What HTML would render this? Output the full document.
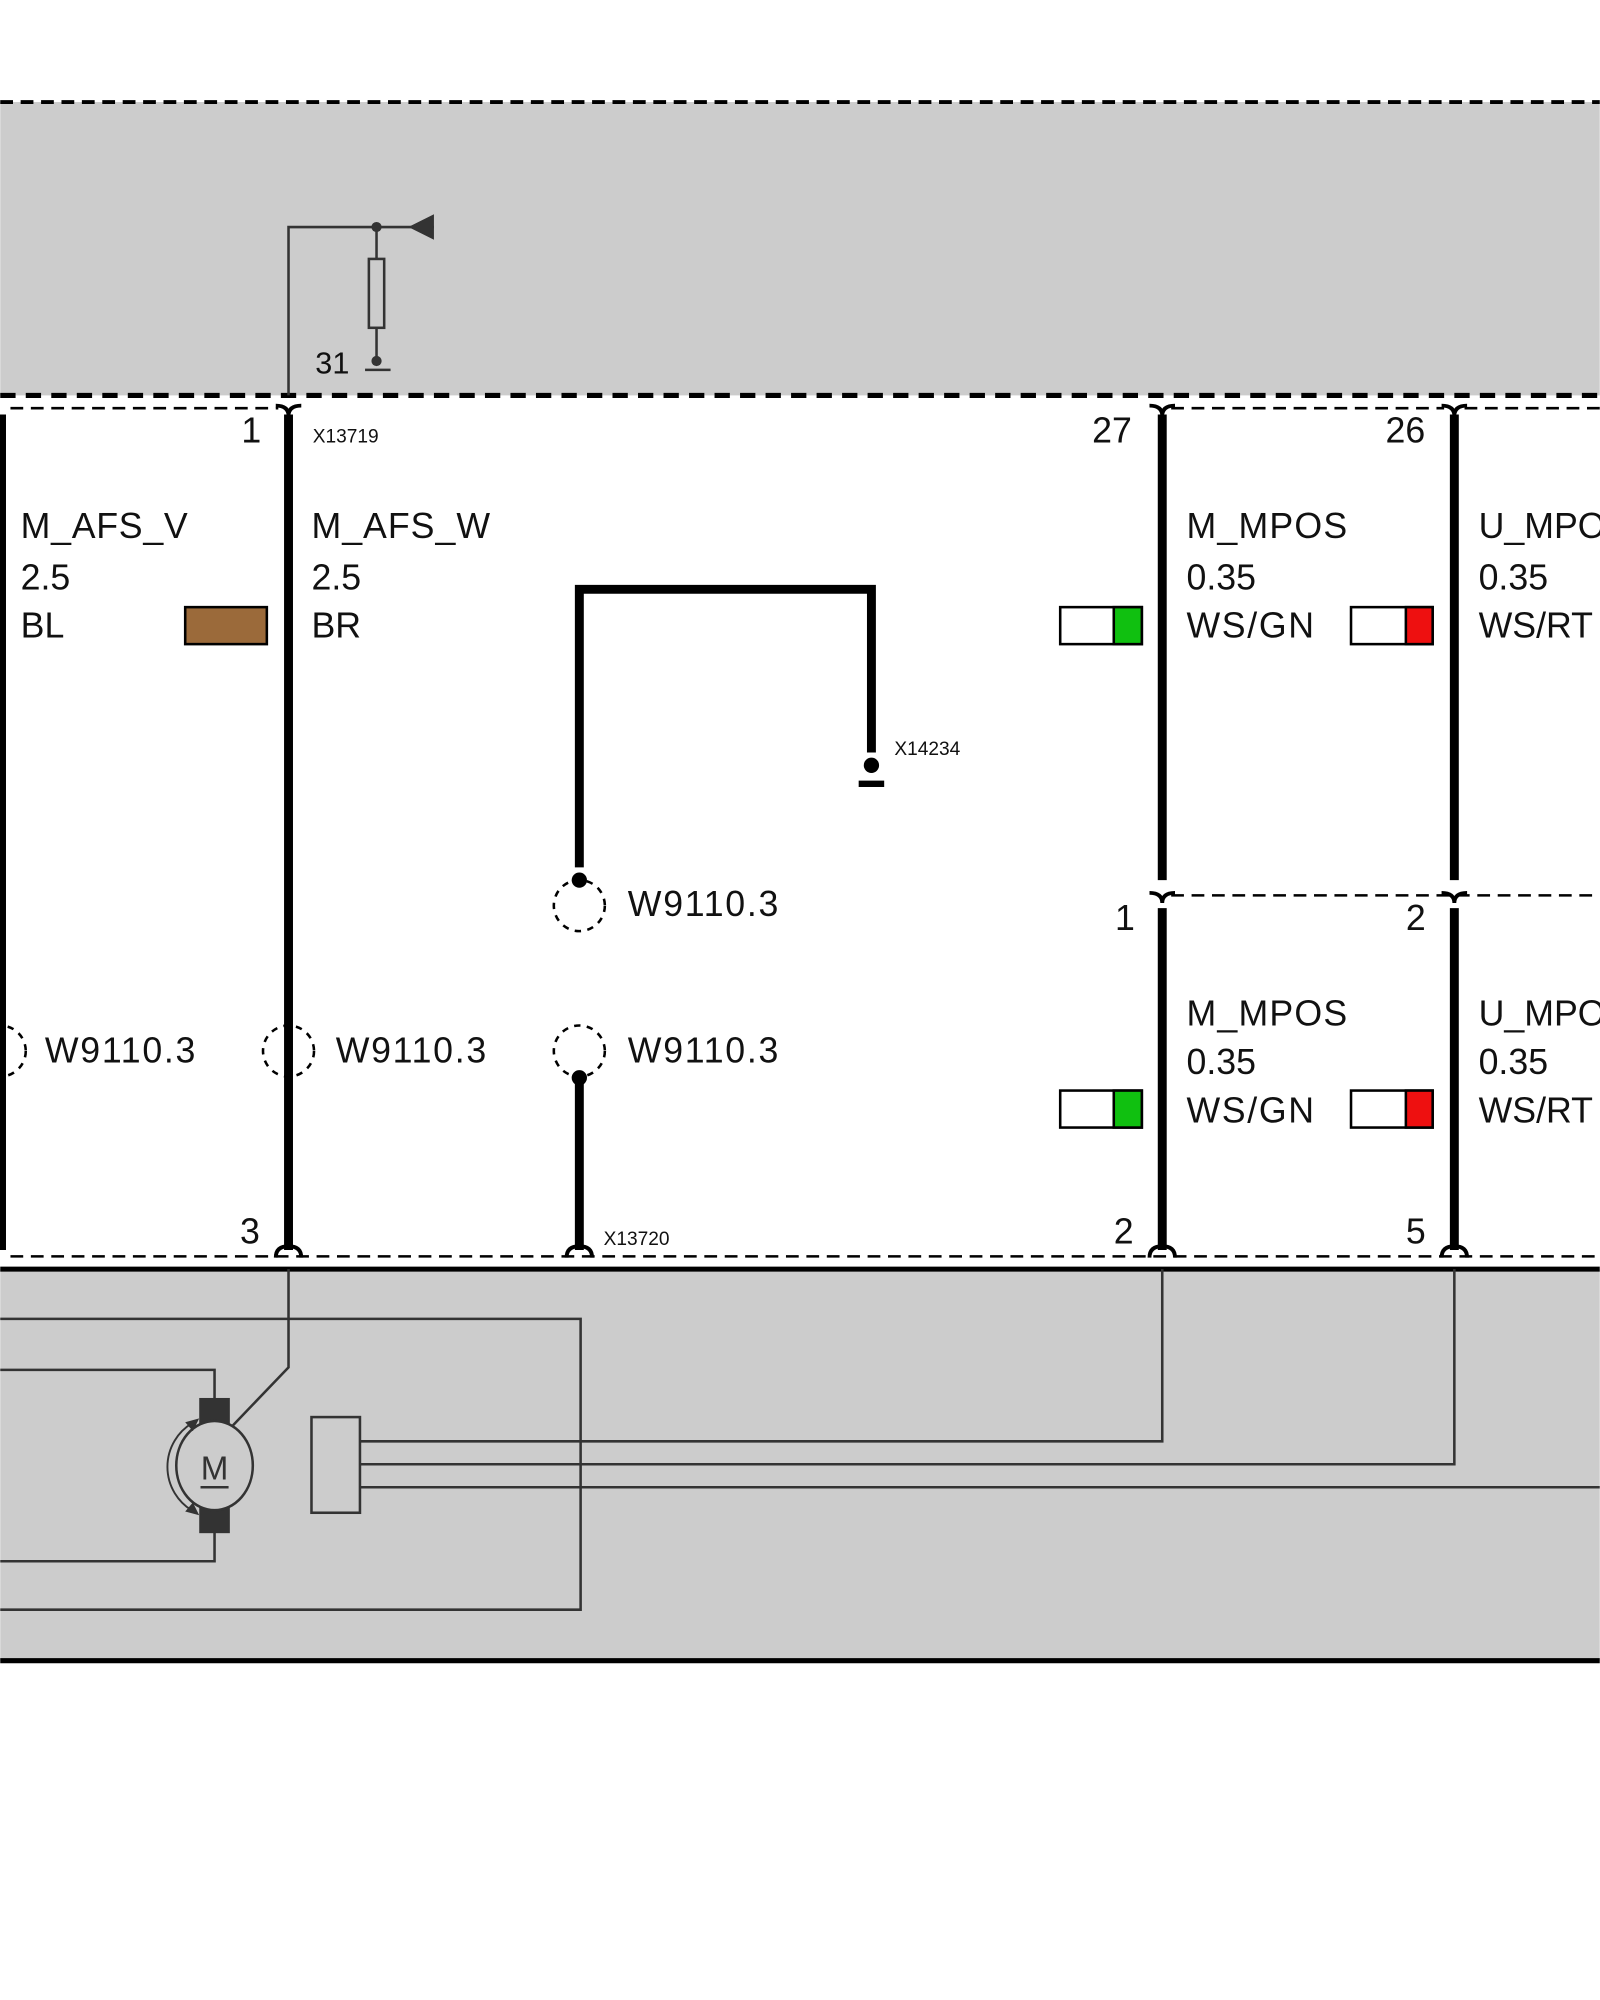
<!DOCTYPE html>
<html><head><meta charset="utf-8"><style>html,body{margin:0;padding:0;background:#fff}svg{display:block}</style></head>
<body>
<svg width="1600" height="2000" viewBox="0 0 1254 1568" xmlns="http://www.w3.org/2000/svg" font-family="Liberation Sans, sans-serif">
<rect x="0" y="80" width="1254" height="230" fill="#cccccc"/>
<line x1="0" y1="80" x2="1254" y2="80" stroke="#000" stroke-width="3" stroke-dasharray="10,6"/>
<line x1="0" y1="310" x2="1254" y2="310" stroke="#000" stroke-width="4" stroke-dasharray="12,8"/>
<g stroke="#333" stroke-width="2" fill="none">
<polyline points="226,310 226,178 340,178"/>
<line x1="295" y1="178" x2="295" y2="283"/>
<rect x="289" y="203" width="12" height="54" fill="#ccc"/>
<line x1="286" y1="290" x2="306" y2="290"/>
</g>
<circle cx="295" cy="178" r="4" fill="#333"/><circle cx="295" cy="283" r="4" fill="#333"/>
<polygon points="320,178 340,168 340,188" fill="#333"/>
<text x="247" y="293" font-size="24" fill="#111">31</text>
<rect x="0" y="995" width="1254" height="307" fill="#cccccc"/>
<line x1="0" y1="995" x2="1254" y2="995" stroke="#000" stroke-width="4"/>
<line x1="0" y1="1302" x2="1254" y2="1302" stroke="#000" stroke-width="4"/>
<g stroke="#000" stroke-width="2" stroke-dasharray="10,6" fill="none">
<line x1="8" y1="320" x2="218" y2="320"/>
<line x1="918" y1="320" x2="1132" y2="320"/>
<line x1="1148" y1="320" x2="1254" y2="320"/>
<line x1="8" y1="985" x2="1254" y2="985"/>
<line x1="918" y1="702" x2="1254" y2="702"/>
</g>
<g stroke="#000" stroke-width="7" fill="none">
<line x1="1" y1="325" x2="1" y2="980"/>
<line x1="226" y1="325" x2="226" y2="980"/>
<line x1="911" y1="325" x2="911" y2="690"/>
<line x1="1140" y1="325" x2="1140" y2="690"/>
<line x1="911" y1="712" x2="911" y2="980"/>
<line x1="1140" y1="712" x2="1140" y2="980"/>
<polyline points="454,680 454,462 683,462 683,590"/>
<line x1="454" y1="848" x2="454" y2="980"/>
</g>
<g stroke="#000" stroke-width="3" fill="none">
<path d="M216,318 q10,0 10,8 q0,-8 10,-8"/>
<path d="M901,318 q10,0 10,8 q0,-8 10,-8"/>
<path d="M1130,318 q10,0 10,8 q0,-8 10,-8"/>
<path d="M901,700 q10,0 10,8 q0,-8 10,-8"/>
<path d="M1130,700 q10,0 10,8 q0,-8 10,-8"/>
<path d="M216,986 q0,-9 10,-9 q10,0 10,9"/>
<path d="M444,986 q0,-9 10,-9 q10,0 10,9"/>
<path d="M901,986 q0,-9 10,-9 q10,0 10,9"/>
<path d="M1130,986 q0,-9 10,-9 q10,0 10,9"/>
</g>
<circle cx="683" cy="600" r="6" fill="#000"/><rect x="673" y="612" width="20" height="5" fill="#000"/>
<circle cx="454" cy="690" r="6" fill="#000"/><circle cx="454" cy="845" r="6" fill="#000"/>
<g stroke="#000" stroke-width="2" stroke-dasharray="5,5" fill="none">
<circle cx="454" cy="710" r="20"/><circle cx="454" cy="824" r="20"/>
<circle cx="226" cy="824" r="20"/><circle cx="0" cy="824" r="20"/>
</g>
<rect x="145" y="476" width="64" height="29" fill="#9b6a3a" stroke="#000" stroke-width="2"/>
<g stroke="#000" stroke-width="2">
<rect x="831" y="476" width="64" height="29" fill="#fff"/><rect x="873" y="476" width="22" height="29" fill="#10c010"/>
<rect x="1059" y="476" width="64" height="29" fill="#fff"/><rect x="1102" y="476" width="21" height="29" fill="#ee1010"/>
<rect x="831" y="855" width="64" height="29" fill="#fff"/><rect x="873" y="855" width="22" height="29" fill="#10c010"/>
<rect x="1059" y="855" width="64" height="29" fill="#fff"/><rect x="1102" y="855" width="21" height="29" fill="#ee1010"/>
</g>
<g font-size="28" fill="#111">
<text x="16" y="422" textLength="131">M_AFS_V</text><text x="16" y="462">2.5</text><text x="16" y="500">BL</text>
<text x="244" y="422" textLength="140">M_AFS_W</text><text x="244" y="462">2.5</text><text x="244" y="500">BR</text>
<text x="930" y="422" textLength="126">M_MPOS</text><text x="930" y="462">0.35</text><text x="930" y="500" textLength="100">WS/GN</text>
<text x="1159" y="422">U_MPOS</text><text x="1159" y="462">0.35</text><text x="1159" y="500">WS/RT</text>
<text x="930" y="804" textLength="126">M_MPOS</text><text x="930" y="842">0.35</text><text x="930" y="880" textLength="100">WS/GN</text>
<text x="1159" y="804">U_MPOS</text><text x="1159" y="842">0.35</text><text x="1159" y="880">WS/RT</text>
<text x="492" y="718" textLength="118">W9110.3</text><text x="492" y="833" textLength="118">W9110.3</text>
<text x="263" y="833" textLength="118">W9110.3</text><text x="35" y="833" textLength="118">W9110.3</text>
<text x="189" y="347">1</text><text x="856" y="347">27</text><text x="1086" y="347">26</text>
<text x="874" y="729">1</text><text x="1102" y="729">2</text>
<text x="188" y="975">3</text><text x="873" y="975">2</text><text x="1102" y="975">5</text>
</g>
<g font-size="15" fill="#111">
<text x="245" y="347">X13719</text><text x="701" y="592">X14234</text><text x="473" y="976">X13720</text>
</g>
<g stroke="#333" stroke-width="2" fill="none">
<polyline points="0,1034 455,1034 455,1262 0,1262"/>
<polyline points="0,1074 168,1074 168,1098"/>
<polyline points="0,1224 168,1224 168,1200"/>
<polyline points="226,995 226,1072 180,1120"/>
<rect x="244" y="1111" width="38" height="75" fill="#ccc"/>
<polyline points="282,1130 911,1130 911,995"/>
<polyline points="282,1148 1140,1148 1140,995"/>
<line x1="282" y1="1166" x2="1254" y2="1166"/>
</g>
<rect x="156" y="1096" width="24" height="34" fill="#333"/>
<rect x="156" y="1168" width="24" height="34" fill="#333"/>
<ellipse cx="168" cy="1149" rx="30" ry="35" fill="#ccc" stroke="#333" stroke-width="2"/>
<text x="168" y="1160" font-size="26" text-anchor="middle" fill="#333">M</text>
<line x1="157" y1="1166" x2="179" y2="1166" stroke="#333" stroke-width="2"/>
<path d="M150,1116 A40,40 0 0,0 150,1184" stroke="#333" stroke-width="1.5" fill="none"/>
<polygon points="156,1112 145,1115 151,1122" fill="#333"/>
<polygon points="156,1188 145,1185 151,1178" fill="#333"/>
</svg>
</body></html>
